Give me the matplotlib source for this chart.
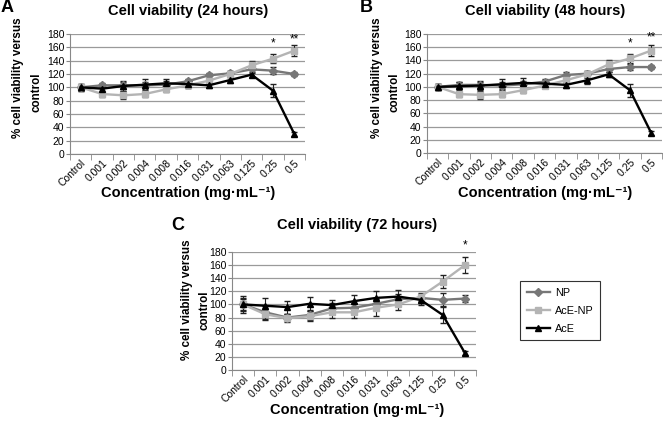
import numpy as np
import matplotlib
matplotlib.use("Agg")
import matplotlib.pyplot as plt

plt.rcParams['font.family'] = ['Liberation Sans', 'DejaVu Sans']

# datos
categorias = ['Control', '0.001', '0.002', '0.004', '0.008', '0.016',
              '0.031', '0.063', '0.125', '0.25', '0.5']

np_24 = [100, 103, 103, 103, 104, 109, 118, 121, 127, 125, 120]
np_24_err = [4, 4, 5, 5, 5, 4, 4, 4, 5, 5, 3]
acenp_24 = [100, 90, 88, 90, 97, 103, 110, 120, 133, 143, 155]
acenp_24_err = [5, 4, 6, 4, 4, 4, 4, 5, 6, 7, 8]
ace_24 = [100, 98, 102, 104, 106, 105, 103, 111, 119, 95, 30]
ace_24_err = [5, 6, 7, 8, 7, 6, 4, 5, 4, 10, 3]

np_48 = [100, 103, 103, 102, 104, 108, 118, 120, 127, 130, 130]
np_48_err = [4, 4, 5, 5, 5, 4, 4, 4, 5, 5, 3]
acenp_48 = [100, 89, 88, 89, 95, 102, 110, 119, 134, 143, 155]
acenp_48_err = [5, 4, 6, 4, 4, 4, 4, 5, 6, 7, 8]
ace_48 = [100, 101, 102, 104, 106, 105, 103, 110, 119, 95, 30]
ace_48_err = [5, 6, 7, 8, 7, 6, 4, 5, 4, 10, 3]

np_72 = [100, 88, 80, 84, 94, 95, 101, 108, 110, 107, 109]
np_72_err = [8, 10, 6, 8, 8, 7, 8, 8, 6, 10, 5]
acenp_72 = [100, 85, 79, 82, 88, 88, 95, 100, 112, 135, 160]
acenp_72_err = [10, 8, 6, 8, 8, 8, 12, 8, 6, 10, 12]
ace_72 = [100, 98, 96, 101, 99, 105, 110, 112, 107, 84, 26]
ace_72_err = [13, 12, 10, 11, 8, 10, 10, 10, 8, 12, 3]

# asteriscos de significancia (indice de categoria, texto, altura)
sig_24 = [(9, '*', 166), (10, '**', 172)]
sig_48 = [(9, '*', 166), (10, '**', 175)]
sig_72 = [(10, '*', 190)]

W, H = 663, 421
fig = plt.figure(figsize=(W / 100, H / 100), dpi=100)


def ejes(l, t, r, b):
    return fig.add_axes([l / W, 1 - b / H, (r - l) / W, (b - t) / H])


def texto(x, y, s, **kw):
    fig.text(x / W, 1 - y / H, s, **kw)


series_estilo = [('NP', '#777777', 'D', 4.2),
                 ('AcE-NP', '#b4b4b4', 's', 4.5),
                 ('AcE', 'black', '^', 5)]


def panel(ax, valores, errores, sig):
    x = np.arange(len(categorias))
    ax.set_axisbelow(True)
    for (nombre, col, mk, ms), v, e in zip(series_estilo, valores, errores):
        ax.errorbar(x, v, yerr=e, fmt='none', ecolor='#222222',
                    elinewidth=0.8, capsize=2, zorder=3)
        ax.plot(x, v, color=col, marker=mk, ms=ms, lw=1.7, label=nombre, zorder=4)
    for i, s, y in sig:
        ax.text(i, y, s, ha='center', va='center', fontsize=8.5, clip_on=False)
    ax.set_xlim(-0.5, len(categorias) - 0.5)
    ax.set_ylim(0, 180)
    ax.set_yticks(np.arange(0, 181, 20))
    ax.yaxis.grid(True, color='#9a9a9a', lw=0.9)
    ax.set_xticks(x)
    ax.set_xticklabels(categorias, rotation=45, ha='right', rotation_mode='anchor')
    ax.set_xticks(np.arange(-0.5, len(categorias)), minor=True)
    ax.tick_params(axis='x', which='major', length=0, labelsize=7.5, pad=3)
    ax.tick_params(axis='x', which='minor', length=4, color='#888888', direction='out')
    ax.tick_params(axis='y', length=3, color='#888888', labelsize=7.5, pad=1)
    for s in ['top', 'right']:
        ax.spines[s].set_visible(False)
    for s in ['left', 'bottom']:
        ax.spines[s].set_color('#888888')


xlab = 'Concentration (mg·mL⁻¹)'
xbold = dict(fontweight='bold', fontsize=10.5, ha='center', va='center')
ybold = dict(fontweight='bold', fontsize=8.4, rotation=90, ha='center', va='center')
tit = dict(fontweight='bold', fontsize=10.5, ha='center', va='center')
letra = dict(fontweight='bold', fontsize=13, ha='center', va='center')

# A
axA = ejes(70, 34, 305, 154)
panel(axA, [np_24, acenp_24, ace_24], [np_24_err, acenp_24_err, ace_24_err], sig_24)
texto(188, 11, 'Cell viability (24 hours)', **tit)
texto(7, 8, 'A', **letra)
texto(18, 78, '% cell viability versus', **ybold)
texto(37, 92, 'control', **ybold)
texto(188, 193, xlab, **xbold)

# B
axB = ejes(427, 34, 662, 153)
panel(axB, [np_48, acenp_48, ace_48], [np_48_err, acenp_48_err, ace_48_err], sig_48)
texto(545, 11, 'Cell viability (48 hours)', **tit)
texto(366, 8, 'B', **letra)
texto(377, 78, '% cell viability versus', **ybold)
texto(395, 92, 'control', **ybold)
texto(545, 193, xlab, **xbold)

# C
axC = ejes(232, 252, 476, 370)
panel(axC, [np_72, acenp_72, ace_72], [np_72_err, acenp_72_err, ace_72_err], sig_72)
texto(357, 225, 'Cell viability (72 hours)', **tit)
texto(178, 225, 'C', **letra)
texto(187, 300, '% cell viability versus', **ybold)
texto(204, 310, 'control', **ybold)
texto(357, 410, xlab, **xbold)

handles, labels = axC.get_legend_handles_labels()
leg = fig.legend(handles, labels, loc='upper left',
                 bbox_to_anchor=(520 / W, 1 - 281 / H), borderaxespad=0,
                 fontsize=7.8, fancybox=False, edgecolor='#333333', framealpha=1,
                 handlelength=2.2, handletextpad=0.4, borderpad=0.6, labelspacing=0.75)
leg.get_frame().set_linewidth(0.8)

fig.savefig('out.png', dpi=100)
